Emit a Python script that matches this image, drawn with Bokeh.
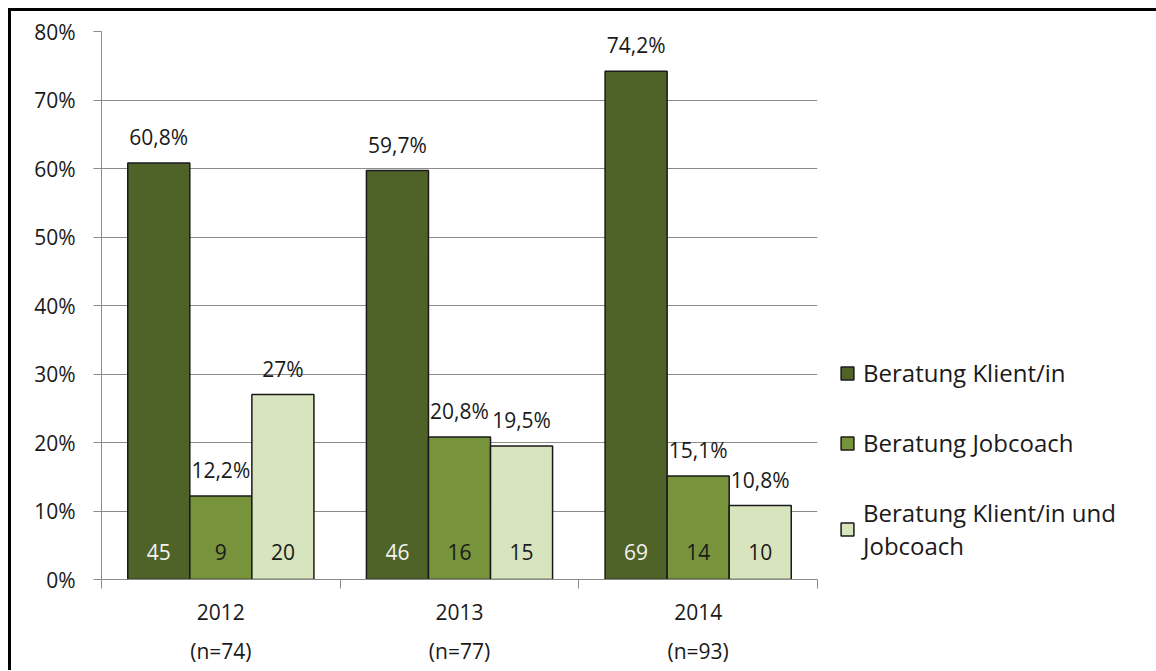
from bokeh.plotting import figure
from bokeh.layouts import column, row
from bokeh.models import (ColumnDataSource, FixedTicker, LinearAxis, Legend, LegendItem,
                          LabelSet, PrintfTickFormatter, Range1d, Grid, Div)
from bokeh.core.properties import value
from bokeh.transform import dodge
from bokeh.embed import file_html
from bokeh.resources import INLINE

# ---- data ----
years = ["2012", "2013", "2014"]
n_values = [74, 77, 93]
series_names = ["Beratung Klient/in", "Beratung Jobcoach", "Beratung Klient/in und\nJobcoach"]
pct_klient = [60.8, 59.7, 74.2]
pct_jobcoach = [12.2, 20.8, 15.1]
pct_beide = [27.0, 19.5, 10.8]
cnt_klient = [45, 46, 69]
cnt_jobcoach = [9, 16, 14]
cnt_beide = [20, 15, 10]
y_ticks = [0, 10, 20, 30, 40, 50, 60, 70, 80]

colors = ["#4F6228", "#77933C", "#D7E4BD"]
count_colors = ["#F2F2F2", "#1A1A1A", "#1A1A1A"]
FONT = "Open Sans"
FS = "21px"
LFS = "24px"
TXT = "#1A1A1A"
GRAY = "#8C8C8C"


def fmt_pct(v):
    return f"{v:g}".replace(".", ",") + "%"


pos = [i + 0.5 for i in range(len(years))]
src = ColumnDataSource(dict(
    x=pos,
    klient=pct_klient, jobcoach=pct_jobcoach, beide=pct_beide,
    klient_lbl=[fmt_pct(v) for v in pct_klient],
    jobcoach_lbl=[fmt_pct(v) for v in pct_jobcoach],
    beide_lbl=[fmt_pct(v) for v in pct_beide],
    klient_n=[str(v) for v in cnt_klient],
    jobcoach_n=[str(v) for v in cnt_jobcoach],
    beide_n=[str(v) for v in cnt_beide],
    zero=[0] * len(years),
))

p = figure(frame_width=716, frame_height=548, x_range=Range1d(0, len(years)), y_range=Range1d(0, 80),
           output_backend="svg", toolbar_location=None,
           x_axis_type=None, y_axis_type=None,
           min_border_left=90, min_border_right=320, min_border_top=20, min_border_bottom=80)
p.outline_line_color = None
p.border_fill_color = "white"

# axes
yaxis = LinearAxis(ticker=FixedTicker(ticks=y_ticks), formatter=PrintfTickFormatter(format="%d%%"))
yaxis.axis_line_color = GRAY
yaxis.major_tick_line_color = GRAY
yaxis.major_tick_out = 8
yaxis.major_tick_in = 0
yaxis.minor_tick_line_color = None
yaxis.major_label_text_font = FONT
yaxis.major_label_text_font_size = FS
yaxis.major_label_text_color = TXT
yaxis.major_label_standoff = 18
p.add_layout(yaxis, "left")
p.add_layout(Grid(dimension=1, ticker=yaxis.ticker, grid_line_color=GRAY, level="underlay"))

xaxis = LinearAxis(ticker=FixedTicker(ticks=pos, minor_ticks=list(range(len(years) + 1))),
                   major_label_overrides={x: y for x, y in zip(pos, years)})
xaxis.axis_line_color = GRAY
xaxis.major_tick_line_color = None
xaxis.major_tick_out = 0
xaxis.major_tick_in = 0
xaxis.minor_tick_line_color = GRAY
xaxis.minor_tick_out = 9
xaxis.minor_tick_in = 0
xaxis.major_label_text_font = FONT
xaxis.major_label_text_font_size = FS
xaxis.major_label_text_color = TXT
xaxis.major_label_standoff = 15
p.add_layout(xaxis, "below")

xaxis2 = LinearAxis(ticker=FixedTicker(ticks=pos),
                    major_label_overrides={x: f"(n={n})" for x, n in zip(pos, n_values)})
xaxis2.axis_line_color = None
xaxis2.major_tick_line_color = None
xaxis2.major_tick_out = 0
xaxis2.major_tick_in = 0
xaxis2.minor_tick_line_color = None
xaxis2.major_label_text_font = FONT
xaxis2.major_label_text_font_size = FS
xaxis2.major_label_text_color = TXT
xaxis2.major_label_standoff = 14
p.add_layout(xaxis2, "below")

W = 0.26
offs = [-W, 0.0, W]
keys = ["klient", "jobcoach", "beide"]
renderers = []
for k, off, c in zip(keys, offs, colors):
    r = p.vbar(x=dodge("x", off), top=k, width=W, bottom=0, source=src,
               fill_color=c, line_color="#1A1A1A", line_width=1.5)
    renderers.append(r)

for k, off, cc in zip(keys, offs, count_colors):
    p.add_layout(LabelSet(x=dodge("x", off), y=k, text=k + "_lbl", source=src,
                          text_align="center", text_baseline="middle", y_offset=26,
                          text_font=value(FONT), text_font_size=FS, text_color=TXT))
    p.add_layout(LabelSet(x=dodge("x", off), y="zero", text=k + "_n", source=src,
                          text_align="center", text_baseline="middle", y_offset=28,
                          text_font=value(FONT), text_font_size=FS, text_color=cc))

legend = Legend(items=[LegendItem(label=n, renderers=[r]) for n, r in zip(series_names, renderers)],
                location=(22, 17))
legend.glyph_width = 16
legend.glyph_height = 16
legend.label_standoff = 8
legend.spacing = 37
legend.padding = 0
legend.margin = 0
legend.border_line_color = None
legend.background_fill_alpha = 0
legend.label_text_font = FONT
legend.label_text_font_size = LFS
legend.label_text_color = TXT
p.add_layout(legend, "right")

# frame border of the original picture: black strips on top and left
top_bar = Div(text="", width=1148, height=3, margin=0, styles={"background-color": "black"})
left_bar = Div(text="", width=3, height=659, margin=0, styles={"background-color": "black"})
layout = column(top_bar, row(left_bar, p, spacing=0), spacing=0,
                styles={"margin-left": "8px", "margin-top": "8px"})

open("out.html", "w").write(file_html(layout, INLINE))
